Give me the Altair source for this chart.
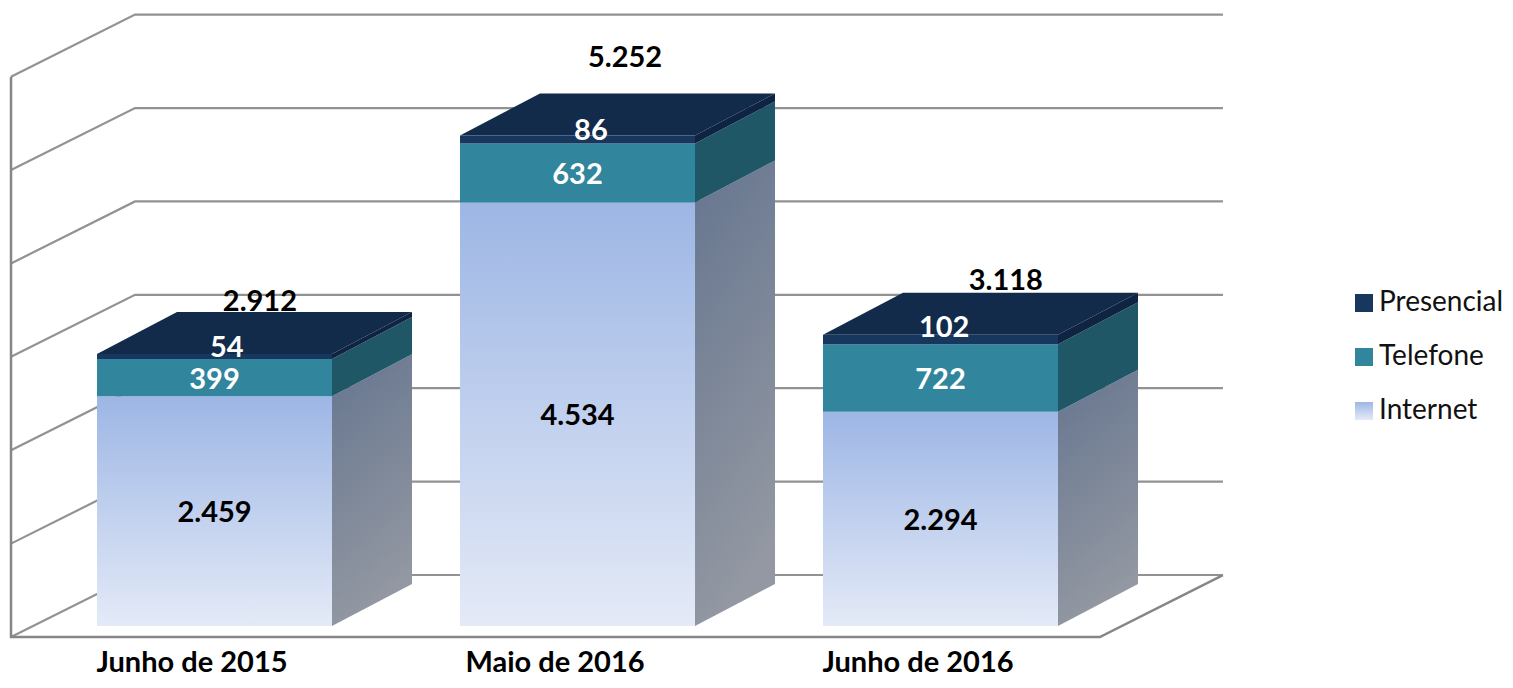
import altair as alt
import pandas as pd

categories = ["Junho de 2015", "Maio de 2016", "Junho de 2016"]
series_names = ["Presencial", "Telefone", "Internet"]
internet = [2459, 4534, 2294]
telefone = [399, 632, 722]
presencial = [54, 86, 102]
totals = [2912, 5252, 3118]
grid_levels = [0, 1000, 2000, 3000, 4000, 5000, 6000]

total_text = ["2.912", "5.252", "3.118"]
internet_text = ["2.459", "4.534", "2.294"]
telefone_text = ["399", "632", "722"]
presencial_text = ["54", "86", "102"]

# layout in chart units: x = category slots, y = value units
X_DOMAIN = [-0.5689, 3.5551]
Y_DOMAIN = [-578, 6617]
HALF = 0.3237
BAR_DX, BAR_DV = 0.2204, 450
WALL_L, WALL_L_BACK, WALL_R_FRONT, WALL_R = -0.5606, -0.219, 2.439, 2.778
FLOOR_FRONT, FLOOR_BACK = -118, 546

total_dx = [0.125, 0.131, 0.180]
total_dv = [557, 829, 576]
pres_dx = [0.034, 0.037, 0.010]
pres_dv = [92, 86, 123]
inner_dv = -20
cat_dx, cat_v = -0.062, -396

xs = alt.Scale(domain=X_DOMAIN, nice=False, zero=False)
ys = alt.Scale(domain=Y_DOMAIN, nice=False, zero=False)
X = lambda f="x": alt.X(f"{f}:Q", scale=xs, axis=None, title=None)
Y = lambda f="y": alt.Y(f"{f}:Q", scale=ys, axis=None, title=None, stack=None)

# wall and grid lines
lines = []
for i, lv in enumerate(grid_levels):
    pts = [(WALL_L, lv + FLOOR_FRONT), (WALL_L_BACK, lv + FLOOR_BACK), (WALL_R, lv + FLOOR_BACK)]
    for j, (x, y) in enumerate(pts):
        lines.append(dict(line=f"g{i}", o=j, x=x, y=y))
grid = alt.Chart(pd.DataFrame(lines)).mark_line(color="#929292", strokeWidth=2.2).encode(
    x=X(), y=Y(), detail="line:N", order="o:Q")

frame_pts = [(WALL_L, grid_levels[-1] + FLOOR_FRONT), (WALL_L, FLOOR_FRONT),
             (WALL_R_FRONT, FLOOR_FRONT), (WALL_R, FLOOR_BACK)]
frame = alt.Chart(pd.DataFrame(
    [dict(o=j, x=x, y=y) for j, (x, y) in enumerate(frame_pts)]
)).mark_line(color="#868686", strokeWidth=2.5, strokeJoin="miter").encode(x=X(), y=Y(), order="o:Q")

# bar segments
segs = []
for i in range(3):
    a = internet[i]
    b = a + telefone[i]
    c = b + presencial[i]
    for name, lo, hi in [("Internet", 0, a), ("Telefone", a, b), ("Presencial", b, c)]:
        segs.append(dict(bar=i, serie=name, x0=i - HALF, x1=i + HALF, lo=lo, hi=hi))
segs = pd.DataFrame(segs)

grad_expr = ("{gradient:'linear',x1:0,y1:0,x2:0,y2:1,"
             "stops:[{offset:0,color:'#9DB6E5'},{offset:1,color:'#E4EAF7'}]}")

front = alt.Chart(segs).mark_rect(strokeWidth=0).encode(
    x=alt.X("x0:Q", scale=xs, axis=None, title=None),
    x2="x1:Q",
    y=alt.Y("lo:Q", scale=ys, axis=None, title=None, stack=None),
    y2="hi:Q",
    color=alt.Color(
        "serie:N",
        scale=alt.Scale(domain=series_names,
                        range=["#17375E", "#31859C", {"expr": grad_expr}]),
        legend=alt.Legend(
            title=None, orient="none", legendX=1342, legendY=281,
            symbolType="square", symbolSize=324, symbolStrokeWidth=0,
            labelFont="Lato", labelFontSize=28, labelColor="#111111",
            labelOffset=1, rowPadding=26, labelLimit=200,
        ),
    ),
)

# side faces
side_rows = []
for _, s in segs.iterrows():
    side_rows.append(dict(bar=s.bar, serie=s.serie, x=s.x1, y=s.lo, y2=s.hi))
    side_rows.append(dict(bar=s.bar, serie=s.serie, x=s.x1 + BAR_DX, y=s.lo + BAR_DV, y2=s.hi + BAR_DV))
side_rows = pd.DataFrame(side_rows)


def side(name, fill):
    return alt.Chart(side_rows[side_rows.serie == name]).mark_area(fill=fill, line=False).encode(
        x=X(), y=Y(), y2="y2:Q", detail="bar:N")


side_grad = alt.Gradient(gradient="linear", x1=0, y1=0, x2=0.25, y2=1, stops=[
    alt.GradientStop(offset=0, color="#65758F"),
    alt.GradientStop(offset=1, color="#9398A2"),
])
sides = [side("Internet", side_grad), side("Telefone", "#1F5767"), side("Presencial", "#0F2342")]

# top faces
top_rows = []
for i in range(3):
    top_rows.append(dict(bar=i, y=totals[i], x=i - HALF, x2=i + HALF))
    top_rows.append(dict(bar=i, y=totals[i] + BAR_DV, x=i - HALF + BAR_DX, x2=i + HALF + BAR_DX))
top = alt.Chart(pd.DataFrame(top_rows)).mark_area(fill="#122B4A", orient="horizontal", line=False).encode(
    y=Y(), x=X(), x2="x2:Q", detail="bar:N")

# texts
inner = []
for i in range(3):
    a = internet[i]
    b = a + telefone[i]
    c = b + presencial[i]
    inner.append(dict(x=i, y=a / 2 + inner_dv, t=internet_text[i], c="#000000"))
    inner.append(dict(x=i, y=(a + b) / 2 + inner_dv, t=telefone_text[i], c="#FFFFFF"))
    inner.append(dict(x=i + pres_dx[i], y=(b + c) / 2 + pres_dv[i], t=presencial_text[i], c="#FFFFFF"))
    inner.append(dict(x=i + total_dx[i], y=totals[i] + total_dv[i], t=total_text[i], c="#000000"))
    inner.append(dict(x=i + cat_dx, y=cat_v, t=categories[i], c="#000000"))
texts = alt.Chart(pd.DataFrame(inner)).mark_text(
    font="Lato", fontWeight="bold", fontSize=29, baseline="middle", align="center"
).encode(x=X(), y=Y(), text="t:N", color=alt.Color("c:N", scale=None, legend=None))

chart = alt.layer(grid, frame, *sides, top, front, texts).resolve_scale(color="independent").properties(
    width=1497, height=672, padding=0, autosize=alt.AutoSizeParams(type="none"),
    background="white",
).configure_view(stroke=None)

chart.save("out.html", embed_options={"renderer": "svg", "actions": False})
